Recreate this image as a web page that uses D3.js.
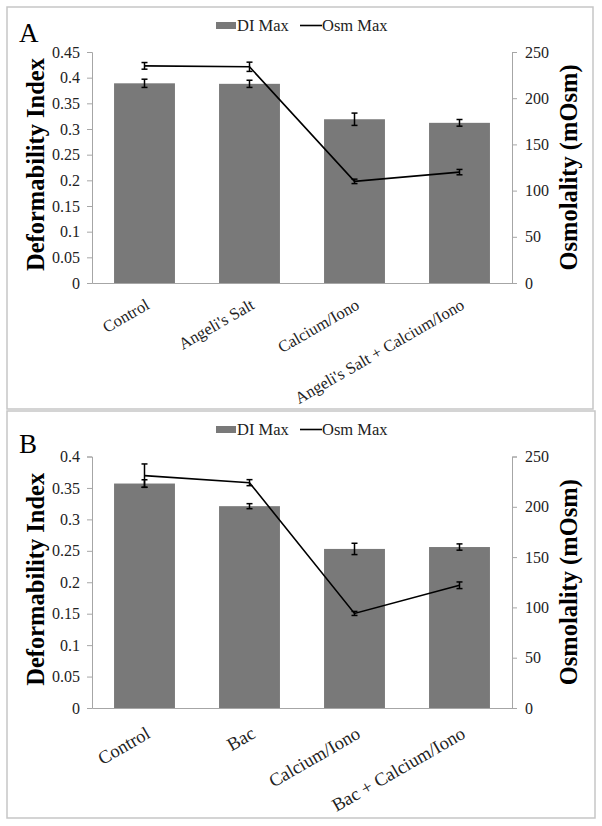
<!DOCTYPE html>
<html>
<head>
<meta charset="utf-8">
<script src="https://cdn.jsdelivr.net/npm/d3@7"></script>
<style>
  html, body { margin: 0; padding: 0; background: #fff; }
  svg { display: block; }
  svg text { font-family: "Liberation Serif", "Tinos", "Times New Roman", "DejaVu Serif", "Noto Serif", serif !important; }
</style>
</head>
<body>
<svg id="chart" width="602" height="826"></svg>
<script>
// ---- Data ----
const categoriesA = ["Control", "Angeli's Salt", "Calcium/Iono", "Angeli's Salt + Calcium/Iono"];
const diMaxA = [0.389, 0.388, 0.319, 0.312];
const diErrA = [0.008, 0.007, 0.012, 0.0065];
const osmMaxA = [235, 234, 110, 120];
const osmErrA = [3.6, 5, 2.4, 2.9];

const categoriesB = ["Control", "Bac", "Calcium/Iono", "Bac + Calcium/Iono"];
const diMaxB = [0.357, 0.321, 0.253, 0.256];
const diErrB = [0.006, 0.004, 0.009, 0.005];
const osmMaxB = [231, 224, 94, 122];
const osmErrB = [11.6, 3, 2, 3.3];

const diTicksA = [0, 0.05, 0.1, 0.15, 0.2, 0.25, 0.3, 0.35, 0.4, 0.45];
const diTicksB = [0, 0.05, 0.1, 0.15, 0.2, 0.25, 0.3, 0.35, 0.4];
const osmTicks = [0, 50, 100, 150, 200, 250];

const legendLabels = ["DI Max", "Osm Max"];
const leftTitle = "Deformability Index";
const rightTitle = "Osmolality (mOsm)";

// ---- Drawing ----
const FONT = '"Liberation Serif", "Tinos", "Times New Roman", "DejaVu Serif", serif';
const svg = d3.select("#chart");
const fmt = v => String(+v.toFixed(2));

function panel(cfg) {
  const g = svg.append("g").attr("font-family", FONT);
  g.append("rect")
    .attr("x", cfg.box[0]).attr("y", cfg.box[1])
    .attr("width", cfg.box[2] - cfg.box[0]).attr("height", cfg.box[3] - cfg.box[1])
    .attr("fill", "#fff").attr("stroke", "#c6c6c6").attr("stroke-width", 1.5);

  const x = d3.scaleBand().domain(cfg.categories).range([cfg.left, cfg.right])
    .paddingInner(0.42).paddingOuter(0.21);
  const yL = d3.scaleLinear().domain([0, cfg.diMaxTick]).range([cfg.bottom, cfg.top]);
  const yR = d3.scaleLinear().domain([0, 250]).range([cfg.bottom, cfg.top]);

  const axL = g.append("g").attr("transform", `translate(${cfg.left},0)`)
    .call(d3.axisLeft(yL).tickValues(cfg.diTicks).tickFormat(fmt).tickSizeOuter(0).tickSize(5).tickPadding(7));
  const axR = g.append("g").attr("transform", `translate(${cfg.right},0)`)
    .call(d3.axisRight(yR).tickValues(osmTicks).tickFormat(fmt).tickSizeOuter(0).tickSize(5).tickPadding(8));
  [axL, axR].forEach(ax => {
    ax.attr("font-family", FONT);
    ax.select(".domain").attr("stroke", "#a6a6a6");
    ax.selectAll(".tick line").attr("stroke", "#a6a6a6");
    ax.selectAll(".tick text").attr("font-family", FONT)
      .attr("font-size", 16).attr("fill", "#222");
  });

  g.selectAll(".bar").data(cfg.di).enter().append("rect")
    .attr("x", (d, i) => x(cfg.categories[i]))
    .attr("width", x.bandwidth())
    .attr("y", d => yL(d))
    .attr("height", d => cfg.bottom - yL(d))
    .attr("fill", "#797979");

  const axB = g.append("g").attr("transform", `translate(0,${cfg.bottom})`)
    .call(d3.axisBottom(x).tickSize(0).tickFormat(""));
  axB.select(".domain").attr("stroke", "#a6a6a6");

  cfg.categories.forEach((c, i) => {
    const cx = x(c) + x.bandwidth() / 2 + cfg.lblDx;
    const cy = cfg.bottom + cfg.lblDy;
    g.append("text").attr("x", 0).attr("y", 0)
      .attr("transform", `translate(${cx},${cy}) rotate(${cfg.lblAngle})`)
      .attr("text-anchor", "end").attr("font-size", cfg.lblSize).attr("fill", "#222")
      .text(c);
  });

  const cap = 3;
  function errBars(vals, errs, scale) {
    vals.forEach((v, i) => {
      const cx = x(cfg.categories[i]) + x.bandwidth() / 2;
      const y1 = scale(v + errs[i]), y2 = scale(v - errs[i]);
      g.append("line").attr("x1", cx).attr("x2", cx).attr("y1", y1).attr("y2", y2)
        .attr("stroke", "#000").attr("stroke-width", 1.5);
      [y1, y2].forEach(yy => g.append("line").attr("x1", cx - cap).attr("x2", cx + cap)
        .attr("y1", yy).attr("y2", yy).attr("stroke", "#000").attr("stroke-width", 1.5));
    });
  }
  errBars(cfg.di, cfg.diErr, yL);

  const line = d3.line()
    .x((d, i) => x(cfg.categories[i]) + x.bandwidth() / 2)
    .y(d => yR(d));
  g.append("path").datum(cfg.osm).attr("d", line)
    .attr("fill", "none").attr("stroke", "#000").attr("stroke-width", 1.6);
  errBars(cfg.osm, cfg.osmErr, yR);

  g.append("text").attr("x", cfg.letterX).attr("y", cfg.letterY)
    .attr("font-size", 27).attr("fill", "#000").text(cfg.letter);

  g.append("rect").attr("x", 216).attr("y", cfg.legY - 3.5).attr("width", 20).attr("height", 7)
    .attr("fill", "#797979");
  g.append("text").attr("x", 237).attr("y", cfg.legY + 5.5).attr("font-size", 16.5)
    .attr("fill", "#222").text(legendLabels[0]);
  g.append("line").attr("x1", 300).attr("x2", 322).attr("y1", cfg.legY).attr("y2", cfg.legY)
    .attr("stroke", "#000").attr("stroke-width", 1.6);
  g.append("text").attr("x", 322).attr("y", cfg.legY + 5.5).attr("font-size", 16.5)
    .attr("fill", "#222").text(legendLabels[1]);

  const midY = (cfg.top + cfg.bottom) / 2;
  g.append("text").attr("transform", `translate(43.5,${midY - 3}) rotate(-90)`)
    .attr("text-anchor", "middle").attr("font-size", 24.5).attr("font-weight", "bold")
    .attr("fill", "#000").text(leftTitle);
  g.append("text").attr("transform", `translate(577,${midY}) rotate(-90)`)
    .attr("text-anchor", "middle").attr("font-size", 24.5).attr("font-weight", "bold")
    .attr("fill", "#000").text(rightTitle);
}

panel({
  box: [7, 7, 593, 409],
  categories: categoriesA, di: diMaxA, diErr: diErrA, osm: osmMaxA, osmErr: osmErrA,
  diTicks: diTicksA, diMaxTick: 0.45,
  left: 92, right: 512, top: 52, bottom: 283,
  lblDx: 6, lblDy: 25, lblAngle: -30, lblSize: 16.5,
  letter: "A", letterX: 19, letterY: 42, legY: 25.5
});

panel({
  box: [7, 411, 595, 818],
  categories: categoriesB, di: diMaxB, diErr: diErrB, osm: osmMaxB, osmErr: osmErrB,
  diTicks: diTicksB, diMaxTick: 0.4,
  left: 92, right: 512, top: 456.5, bottom: 708,
  lblDx: 7, lblDy: 29, lblAngle: -30, lblSize: 18.5,
  letter: "B", letterX: 19, letterY: 453, legY: 429.5
});
</script>
</body>
</html>
